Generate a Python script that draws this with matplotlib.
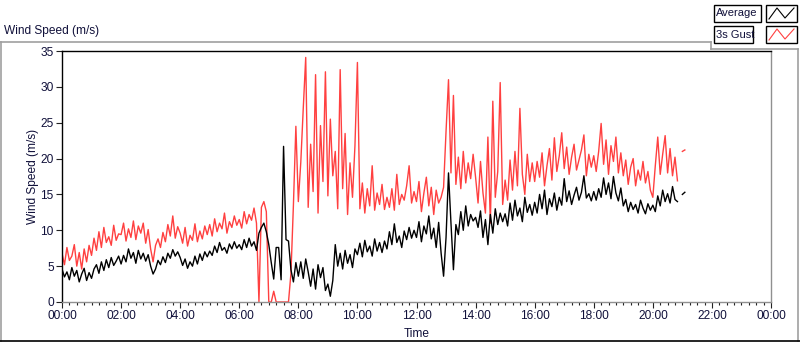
import numpy as np
import matplotlib.pyplot as plt
from matplotlib.lines import Line2D
from matplotlib.patches import Rectangle

# 5-minute samples from 00:00 to 21:05
avg_speed = [
    4.6, 3.5, 4.2, 3.1, 4.8, 3.6, 4.4, 2.8, 3.9, 4.7, 3.0, 4.1,
    3.3, 4.6, 5.2, 4.0, 5.6, 4.4, 5.9, 4.8, 6.2, 5.1, 5.7, 6.4,
    5.3, 6.5, 5.6, 7.4, 6.1, 6.9, 5.4, 7.2, 6.0, 6.8, 5.7, 6.6,
    5.0, 3.9, 4.6, 5.8, 5.2, 6.3, 5.5, 6.8, 6.1, 7.3, 6.4, 7.0,
    6.2, 5.1, 6.0, 4.7, 5.6, 5.0, 6.4, 5.3, 6.7, 5.8, 7.0, 6.3,
    7.1, 6.5, 7.8, 6.9, 8.3, 7.2, 7.6, 6.8, 8.1, 7.4, 8.4, 7.5,
    8.0, 7.3, 8.7, 7.6, 8.9, 7.8, 8.4, 7.2, 9.6, 10.4, 11.0, 9.8,
    8.0, 5.5, 3.2, 7.6, 7.6, 3.1, 21.7, 8.7, 8.5, 4.5, 2.8, 5.5,
    3.6, 5.6, 3.3, 6.0, 4.2, 2.2, 4.6, 1.8, 5.2, 3.4, 4.8, 1.6,
    2.5, 0.8, 3.0, 8.0, 5.0, 6.8, 4.6, 7.2, 5.4, 6.6, 4.8, 7.4,
    6.6, 8.2, 6.3, 8.6, 7.0, 7.8, 6.4, 8.8, 7.1, 8.3, 6.9, 8.5,
    7.4, 9.8, 8.0, 10.9, 8.3, 9.2, 7.6, 9.9, 8.7, 10.4, 8.9, 10.0,
    9.0, 11.2, 8.4, 10.6, 9.5, 12.0, 8.8, 10.3, 7.6, 11.1, 6.8, 3.6,
    9.0, 18.0, 11.0, 4.5, 10.8, 9.4, 12.6, 10.0, 13.4, 10.6, 12.2, 11.3,
    11.8, 10.4, 12.7, 9.0, 11.5, 8.0, 12.2, 9.6, 13.0, 10.8, 12.4, 11.2,
    12.3, 10.6, 13.8, 11.4, 14.2, 12.0, 13.1, 11.2, 14.6, 12.5, 13.6, 12.1,
    13.9, 12.4, 15.0, 13.0, 15.6, 12.2, 14.4, 13.3, 15.2, 12.8, 14.6, 13.5,
    17.2, 14.0, 15.5, 13.6, 14.9, 16.0, 14.2, 15.3, 17.6, 14.5, 15.1, 14.1,
    15.4, 14.2, 15.8, 14.6, 17.3, 15.0, 16.6, 14.4, 17.5, 15.2, 14.1, 15.9,
    13.4, 14.3, 12.6, 13.9, 12.9, 13.6, 12.4, 14.2, 13.1, 12.3, 13.7, 12.8,
    13.5, 12.6, 14.8, 13.4, 15.6, 14.0, 15.1, 13.8, 16.1, 14.3, 14.0, np.nan,
    15.0, 15.3,
]

gust_speed = [
    6.8, 5.2, 7.6, 5.8, 6.4, 8.0, 5.0, 6.9, 4.6, 7.4, 5.6, 7.9,
    6.5, 8.9, 7.2, 9.8, 7.6, 10.4, 8.3, 9.1, 7.9, 10.7, 8.6, 9.5,
    9.4, 11.0, 8.5, 10.2, 9.0, 11.3, 8.7, 10.6, 9.6, 11.0, 8.2, 10.1,
    7.4, 5.6, 7.9, 8.8, 7.6, 9.7, 8.4, 10.8, 9.2, 12.0, 8.9, 10.5,
    9.6, 8.2, 10.4, 7.8, 9.3, 8.6, 10.9, 8.4, 9.9, 8.8, 10.6, 9.4,
    10.8, 9.2, 11.6, 9.8, 11.0, 10.2, 12.4, 9.6, 11.2, 10.4, 12.0, 10.7,
    11.5, 10.3, 12.6, 10.9, 12.2, 11.4, 13.1, 11.0, 0.0, 13.2, 14.0, 12.6,
    0.0, 0.0, 1.5, 0.0, 0.0, 0.0, 0.0, 0.0, 0.0, 4.0, 13.5, 24.5,
    14.0, 19.5, 27.0, 34.1, 13.2, 22.0, 15.4, 31.7, 12.4, 24.6, 16.8, 32.1,
    14.8, 25.5, 17.6, 21.0, 13.0, 32.4, 15.8, 23.5, 12.2, 19.4, 14.6, 21.8,
    33.4, 13.0, 16.6, 12.4, 15.8, 13.4, 19.0, 12.8, 15.2, 13.6, 16.4, 12.9,
    14.6, 13.2, 15.8, 12.8, 17.8, 13.6, 15.0, 14.2, 16.2, 19.0, 13.8, 15.4,
    14.0, 16.8, 12.6, 15.2, 17.4, 13.4, 16.0, 12.2, 15.6, 13.8, 14.6, 16.0,
    23.8, 31.0, 18.0, 28.8, 16.4, 20.2, 15.8, 21.0, 16.6, 19.4, 17.2, 20.6,
    17.4, 13.8, 19.6, 15.2, 12.4, 23.0, 11.0, 28.0, 14.6, 18.2, 30.6, 13.6,
    17.0, 14.2, 19.8, 15.6, 21.0, 16.2, 27.0, 17.8, 15.0, 20.6, 16.8, 19.4,
    16.8, 19.6, 17.4, 20.8, 16.2, 19.0, 21.4, 17.0, 22.9, 18.2, 20.4, 23.6,
    18.6, 21.6, 17.8, 20.2, 22.0, 18.4, 19.8, 21.2, 23.3, 17.6, 20.6, 18.8,
    20.4, 18.2, 21.0, 24.9, 19.2, 22.6, 17.8, 21.8, 19.6, 23.0, 18.0, 20.8,
    17.6, 19.8, 16.4, 18.8, 20.0, 16.2, 18.4, 17.0, 19.6, 16.6, 18.2, 15.6,
    14.6, 19.0, 23.0, 17.8, 20.6, 23.2, 18.0, 21.4, 17.6, 20.2, 16.9, np.nan,
    21.0, 21.2,
]

hours = np.arange(len(avg_speed)) * 5 / 60.0
tick_hours = list(range(0, 25, 2))
tick_labels = [f"{h % 24:02d}:00" for h in tick_hours]

W, H = 800, 342
fig = plt.figure(figsize=(W / 100, H / 100), dpi=100)
plt.rcParams['font.family'] = ['Liberation Sans', 'DejaVu Sans']
txt_col = '#10103a'

def fx(x):
    return x / W

def fy(y):
    return 1 - y / H

ax = fig.add_axes([fx(62), fy(302), (771 - 62) / W, (302 - 51) / H])
ax.plot(hours, gust_speed, color='#ff4040', lw=1.0)
ax.plot(hours, avg_speed, color='black', lw=1.0)

ax.set_xlim(0, 24)
ax.set_ylim(0, 35)
ax.set_xticks(tick_hours)
ax.set_xticklabels(tick_labels)
ax.set_xticks(np.arange(0, 24.01, 0.25), minor=True)
ax.set_yticks(range(0, 36, 5))
ax.tick_params(axis='both', which='major', labelsize=8.6, colors='#222222',
               labelcolor=txt_col, length=4, width=0.8, pad=2)
ax.tick_params(axis='x', which='minor', length=2.5, width=0.8, colors='#222222')
ax.set_xlabel('Time', fontsize=8.6, color=txt_col, labelpad=4)
ax.set_ylabel('Wind Speed (m/s)', fontsize=8.6, color=txt_col, labelpad=1)

for s in ['top', 'left']:
    ax.spines[s].set_color('black')
for s in ['bottom', 'right']:
    ax.spines[s].set_color('#909090')
for s in ax.spines.values():
    s.set_linewidth(1.0)

# panel frame
gray = '#a0a0a0'
frame = [([0, 711], [42, 42], gray), ([711, 711], [42, 49], gray),
         ([711, 798], [49, 49], gray), ([798, 798], [49, 341], gray),
         ([1, 1], [42, 341], gray), ([0, 800], [341, 341], 'black')]
for xs, ys, c in frame:
    fig.add_artist(Line2D([fx(v) for v in xs], [fy(v) for v in ys], color=c, lw=1.2))

fig.text(fx(4), fy(31), 'Wind Speed (m/s)', fontsize=8.6, color=txt_col, va='center')

# legend
legend_items = [('Average', 'black', 5, 761), ('3s Gust', '#ff4040', 26, 753)]
for name, col, top, right in legend_items:
    fig.add_artist(Rectangle((fx(714), fy(top + 17)), (right - 714) / W, 17 / H,
                             facecolor='white', edgecolor='black', lw=1.0, zorder=5))
    fig.text(fx(715.5), fy(top + 8.5), name, fontsize=8.0, color=txt_col,
             va='center', zorder=6)
    fig.add_artist(Rectangle((fx(766), fy(top + 17)), 31 / W, 17 / H,
                             facecolor='white', edgecolor='black', lw=1.0, zorder=5))
    zx = [769, 777, 785, 794]
    zy = [top + 14, top + 3, top + 13, top + 3]
    fig.add_artist(Line2D([fx(v) for v in zx], [fy(v) for v in zy], color=col,
                          lw=0.8, zorder=6))

fig.savefig('out.png', dpi=100)
